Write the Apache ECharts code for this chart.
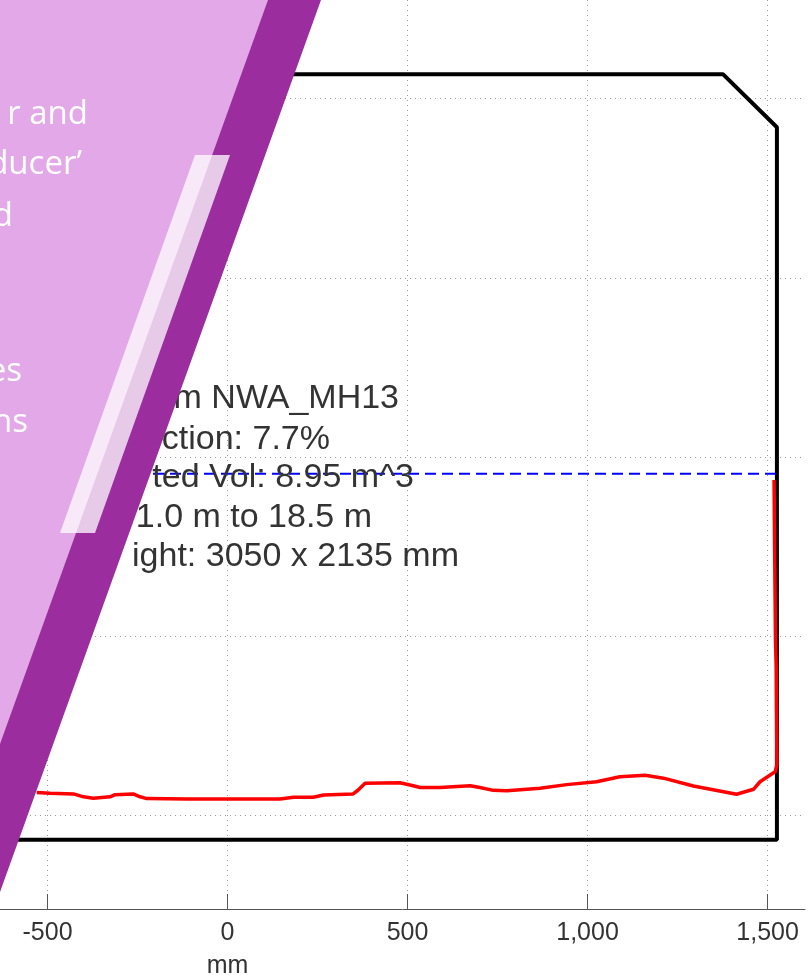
<!DOCTYPE html>
<html>
<head>
<meta charset="utf-8">
<title>Tank profile</title>
<script src="https://cdn.jsdelivr.net/npm/echarts@6/dist/echarts.min.js"></script>
<style>
html, body { margin: 0; padding: 0; background: #fff; }
#myChart { width: 809px; height: 978px; }
</style>
</head>
<body>
<div id="myChart"></div>
<script>
// tick positions in mm
const xTicks = [-500, 0, 500, 1000, 1500];
const yTicks = [-1000, -500, 0, 500, 1000];

// tank outline, the left end sits behind the purple panel
const tankX = [-632, 1376, 1526, 1526, -632];
const tankY = [1068, 1068, 920, -1068, -1068];

// fill level
const levelX = [-632, 1526];
const levelY = [-47, -47];

// measured floor profile and the rise along the right wall
const profileX = [-530, -493, -428, -400, -373, -326, -312, -262, -243, -224, -113, 0, 146, 183, 238, 267, 349, 363, 382, 479, 507, 535, 590, 674, 701, 738, 776, 868, 942, 1025, 1090, 1160, 1211, 1294, 1414, 1461, 1479, 1521, 1526, 1524, 1522, 1518];
const profileY = [-936, -938, -940, -948, -952, -948, -942, -940, -948, -953, -954, -954, -954, -949, -949, -943, -940, -929, -910, -909, -915, -922, -922, -917, -922, -930, -931, -924, -914, -906, -892, -888, -896, -918, -941, -927, -906, -878, -859, -586, -510, -64];

// text that is still visible next to the panel
const infoLines = ["m NWA_MH13", "ction: 7.7%", "ted Vol: 8.95 m^3", "1.0 m to 18.5 m", "ight: 3050 x 2135 mm"];
const panelLines = ["r and", "ducer’", "d", "es", "ns"];
const xName = "mm";

const zip = (xs, ys) => xs.map((x, i) => [x, ys[i]]);

const gridLine = { show: true, lineStyle: { color: "#9a9a9a", type: [1, 4], width: 1 } };

const infoPos = [[399, 399], [330, 440], [414, 478], [372, 518], [459, 557]];
const panelPos = [[88, 115], [82, 165], [13, 217], [22, 372], [28, 423]];

const chartInstance = echarts.init(document.getElementById("myChart"));
chartInstance.setOption({
  animation: false,
  backgroundColor: "#fff",
  grid: { left: 0, width: 805, top: 0, height: 909 },
  xAxis: {
    type: "value",
    min: -632,
    max: 1604,
    axisLine: { show: true, onZero: false, lineStyle: { color: "#555", width: 1 } },
    axisTick: { show: true, inside: true, length: 15, customValues: xTicks, lineStyle: { color: "#555" } },
    axisLabel: { customValues: xTicks, color: "#333", fontFamily: "Liberation Sans", fontSize: 25, margin: 12 },
    splitLine: gridLine,
  },
  yAxis: {
    type: "value",
    min: -1261,
    max: 1275,
    axisLine: { show: false },
    axisTick: { show: false, customValues: yTicks },
    axisLabel: { show: false, customValues: yTicks },
    splitLine: gridLine,
  },
  series: [
    {
      type: "line",
      data: zip(tankX, tankY),
      symbol: "none",
      z: 3,
      lineStyle: { color: "#000", width: 4 },
    },
    {
      type: "line",
      data: zip(levelX, levelY),
      symbol: "none",
      z: 4,
      lineStyle: { color: "#0000ff", width: 2, type: [11, 6] },
    },
    {
      type: "line",
      data: zip(profileX, profileY),
      symbol: "none",
      z: 5,
      lineStyle: { color: "#ff0000", width: 3.5 },
    },
  ],
  graphic: [
    ...infoLines.map((text, i) => ({
      type: "text",
      z: 6,
      x: infoPos[i][0],
      y: infoPos[i][1],
      style: { text, fill: "#333", font: "34px 'Liberation Sans'", textAlign: "right", textVerticalAlign: "middle" },
    })),
    {
      type: "text",
      z: 6,
      x: 227.5,
      y: 966,
      style: { text: xName, fill: "#333", font: "25px 'Liberation Sans'", textAlign: "center", textVerticalAlign: "middle" },
    },
    // purple panel on top of the plot
    {
      type: "polygon",
      z: 100,
      shape: { points: [[0, 0], [321, 0], [0, 892], [0, 892]] },
      style: { fill: "#9b2d9f" },
    },
    {
      type: "polygon",
      z: 101,
      shape: { points: [[0, 0], [268, 0], [0, 744]] },
      style: { fill: "#e2a8e8" },
    },
    {
      type: "polygon",
      z: 102,
      shape: { points: [[195, 155], [230, 155], [95, 533], [60, 533]] },
      style: { fill: "rgba(255,255,255,0.75)" },
    },
    ...panelLines.map((text, i) => ({
      type: "text",
      z: 103,
      x: panelPos[i][0],
      y: panelPos[i][1],
      style: { text, fill: "#fff", font: "33px 'Open Sans'", textAlign: "right", textVerticalAlign: "middle" },
    })),
  ],
});
</script>
</body>
</html>
